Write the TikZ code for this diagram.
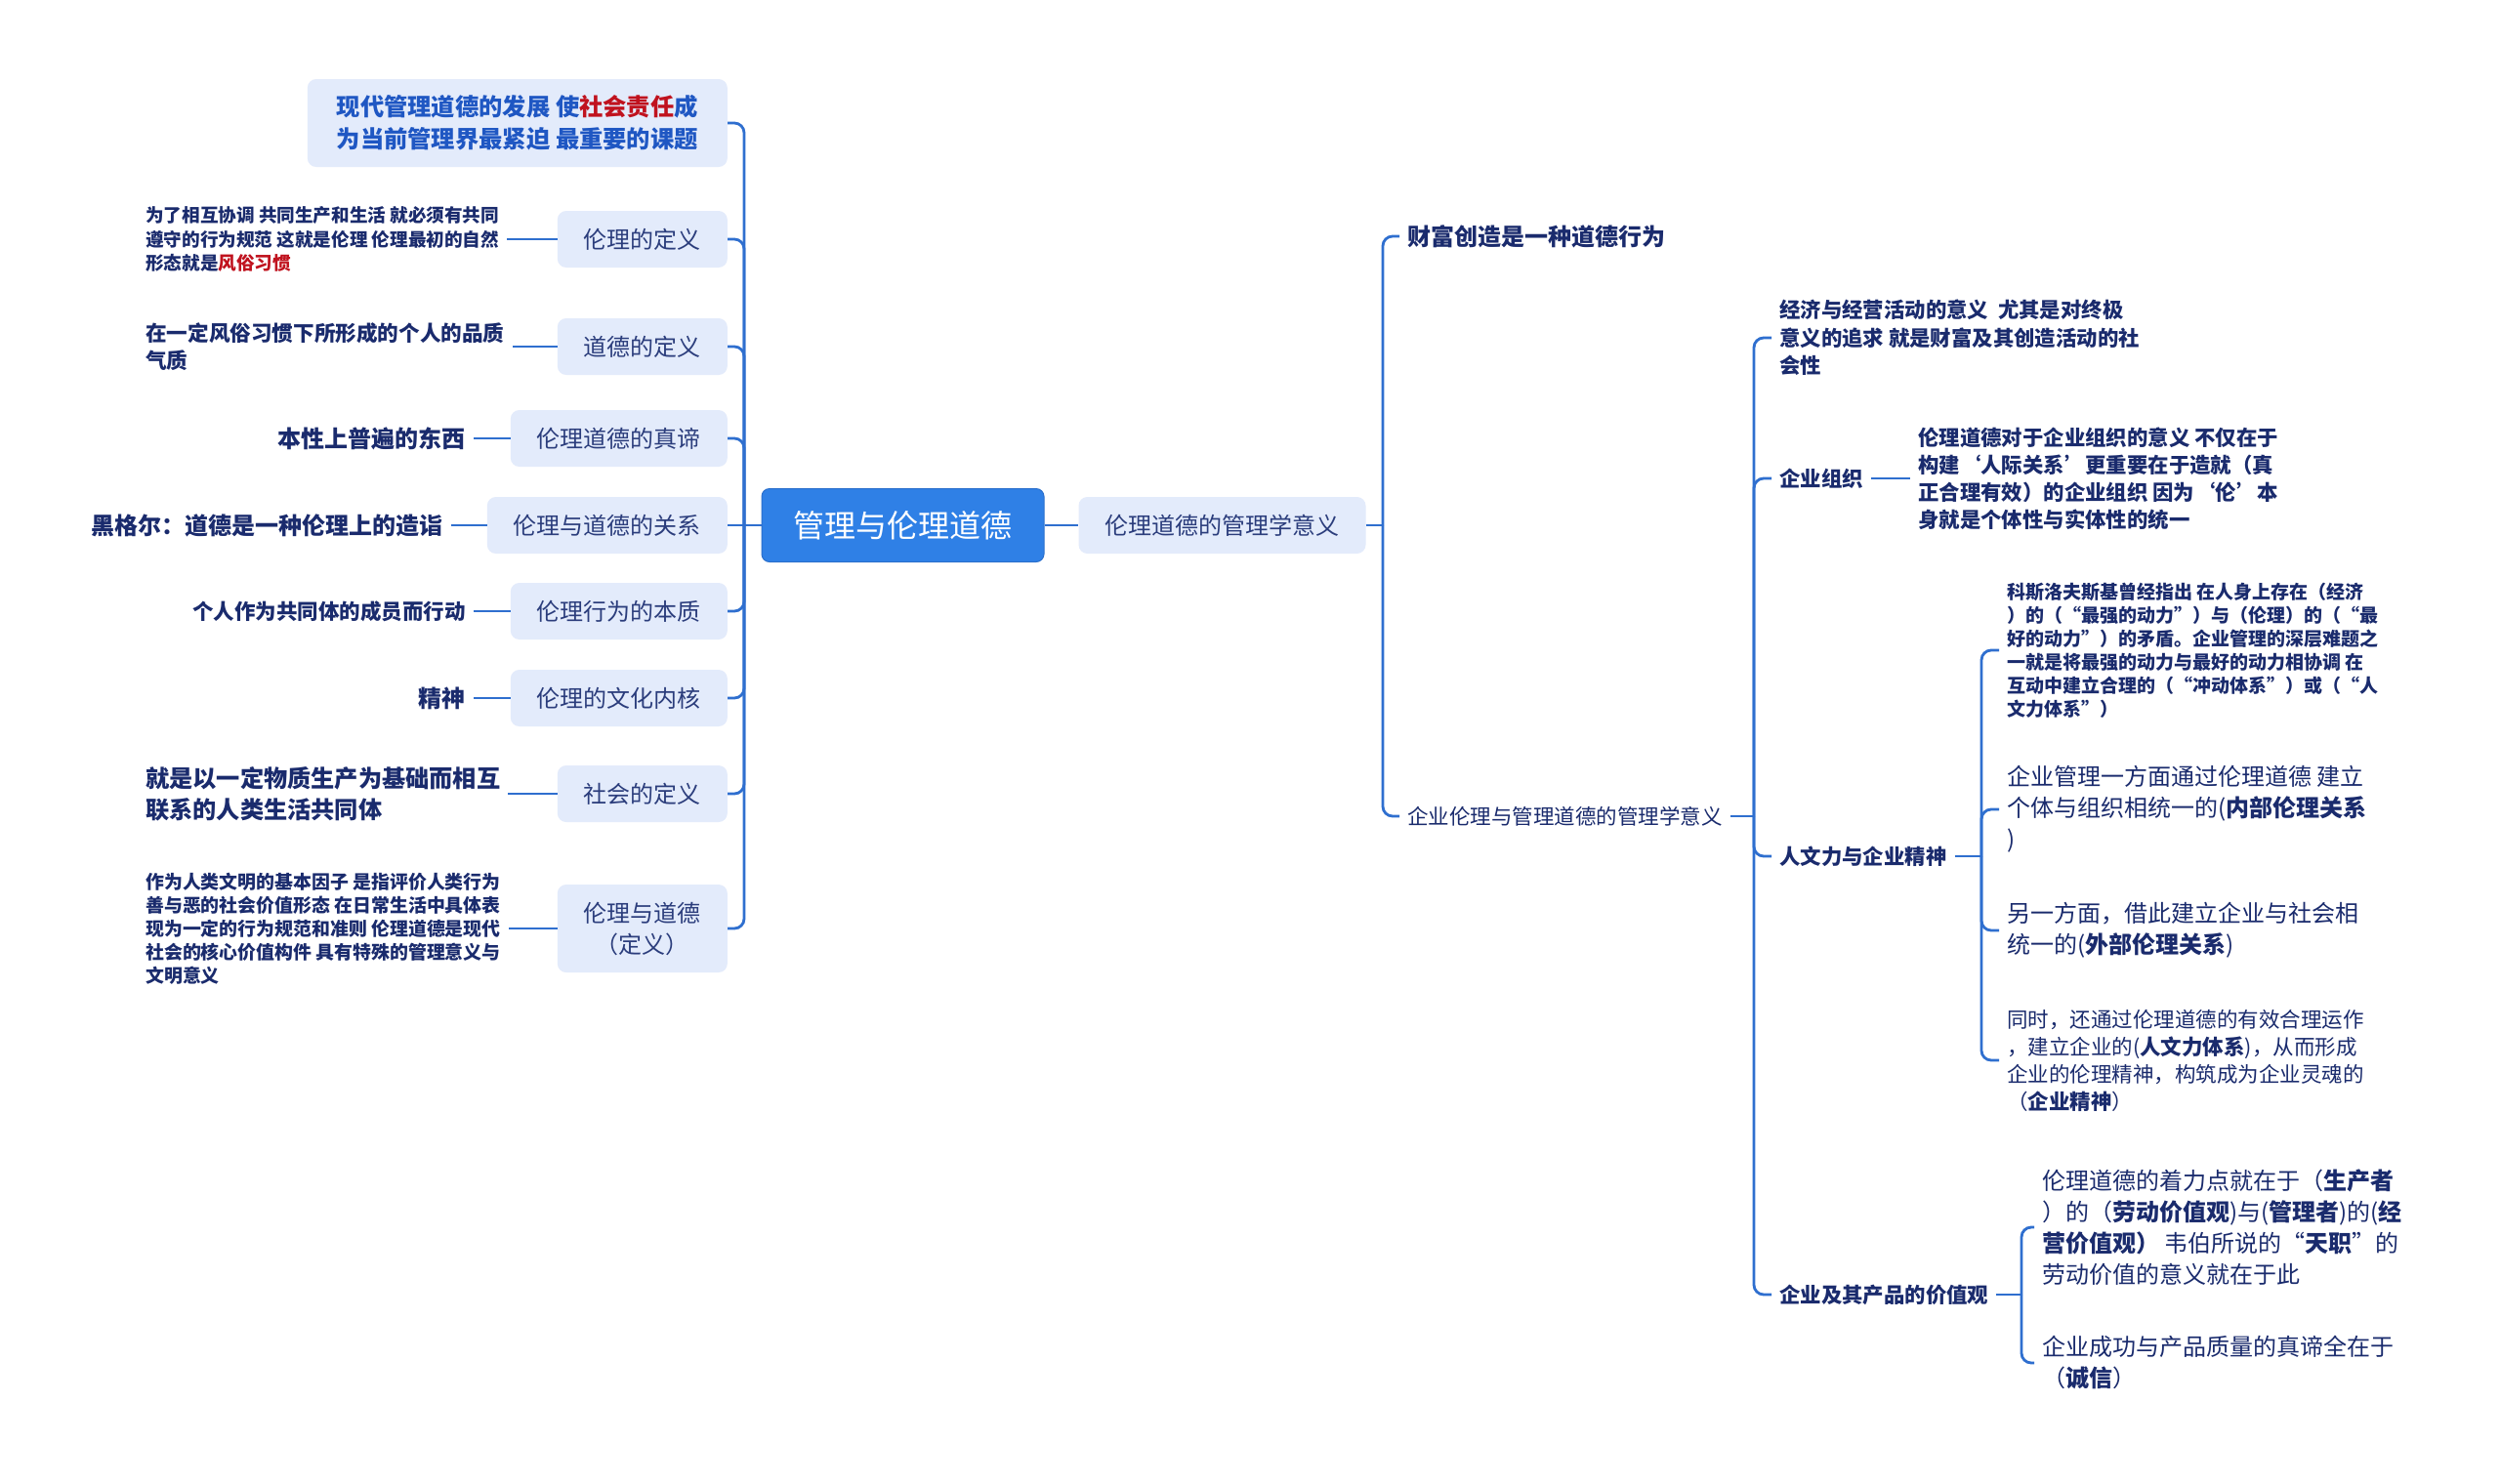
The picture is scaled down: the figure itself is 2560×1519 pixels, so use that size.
\documentclass[tikz,border=0pt]{standalone}
\usepackage{fontspec}
\setmainfont{Noto Sans CJK SC}
\definecolor{navy}{HTML}{1A2B6D}
\definecolor{boxtext}{HTML}{2B3D7C}
\definecolor{boxfill}{HTML}{E3EBFB}
\definecolor{rootfill}{HTML}{2F80E6}
\definecolor{rootdraw}{HTML}{2A6FCC}
\definecolor{linec}{HTML}{2F6FCF}
\definecolor{topblue}{HTML}{1F57C3}
\definecolor{hlred}{HTML}{C0121E}
\newcommand{\myfs}[2]{\fontsize{#1}{#2}\selectfont}
\tikzset{
 conn/.style={draw=linec, line width=2.8pt, rounded corners=10pt},
 rootbox/.style={fill=rootfill, draw=rootdraw, line width=1pt, rounded corners=8pt, text=white, font=\myfs{32}{38}, minimum width=289pt, minimum height=75pt, inner sep=0pt},
 lbox/.style={fill=boxfill, rounded corners=9pt, text=boxtext, font=\myfs{24}{32}, minimum height=58pt, inner xsep=27pt, inner ysep=0pt, align=center},
 leaf/.style={text=navy, inner xsep=8pt, inner ysep=3pt, align=left},
}
\begin{document}
\begin{tikzpicture}[x=1pt,y=-1pt]
\useasboundingbox[fill=white] (0,0) rectangle (2560,1519);
% root
\node[rootbox] (root) at (924.5,538) {管理与伦理道德};
% left level 1
\node[lbox, anchor=east, minimum width=430pt, minimum height=90pt, align=left, text=topblue, font=\myfs{24.3}{33}\bfseries] (a1) at (745,126) {现代管理道德的发展 使\textcolor{hlred}{社会责任}成\\为当前管理界最紧迫 最重要的课题};
\node[lbox, anchor=east] (a2) at (745,245) {伦理的定义};
\node[lbox, anchor=east] (a3) at (745,355) {道德的定义};
\node[lbox, anchor=east] (a4) at (745,449) {伦理道德的真谛};
\node[lbox, anchor=east] (a5) at (745,538) {伦理与道德的关系};
\node[lbox, anchor=east] (a6) at (745,626) {伦理行为的本质};
\node[lbox, anchor=east] (a7) at (745,715) {伦理的文化内核};
\node[lbox, anchor=east] (a8) at (745,813) {社会的定义};
\node[lbox, anchor=east, minimum height=90pt] (a9) at (745,951) {伦理与道德\\（定义）};
% left leaves
\node[leaf, anchor=west, font=\myfs{18.6}{24.5}\bfseries] (b2) at (141,245) {为了相互协调 共同生产和生活 就必须有共同\\遵守的行为规范 这就是伦理 伦理最初的自然\\形态就是\textcolor{hlred}{风俗习惯}};
\node[leaf, anchor=west, font=\myfs{21.6}{28}\bfseries] (b3) at (141,355) {在一定风俗习惯下所形成的个人的品质\\气质};
\node[leaf, anchor=east, font=\myfs{24}{30}\bfseries] (b4) at (485,449) {本性上普遍的东西};
\node[leaf, anchor=east, font=\myfs{24}{30}\bfseries] (b5) at (462,538) {黑格尔：道德是一种伦理上的造诣};
\node[leaf, anchor=east, font=\myfs{21.5}{28}\bfseries] (b6) at (485,626) {个人作为共同体的成员而行动};
\node[leaf, anchor=east, font=\myfs{24}{30}\bfseries] (b7) at (485,715) {精神};
\node[leaf, anchor=west, font=\myfs{24.2}{32}\bfseries] (b8) at (141,813) {就是以一定物质生产为基础而相互\\联系的人类生活共同体};
\node[leaf, anchor=west, font=\myfs{18.9}{24}\bfseries] (b9) at (141,951) {作为人类文明的基本因子 是指评价人类行为\\善与恶的社会价值形态 在日常生活中具体表\\现为一定的行为规范和准则 伦理道德是现代\\社会的核心价值构件 具有特殊的管理意义与\\文明意义};
% left connectors
\coordinate (lb) at (762,538);
\draw[conn] (root.west) -- (a5.east);
\foreach \n in {a1,a2,a3,a4,a6,a7,a8,a9} \draw[conn] (lb) |- (\n.east);
\foreach \p/\c in {a2/b2,a3/b3,a4/b4,a5/b5,a6/b6,a7/b7,a8/b8,a9/b9} \draw[conn] (\p.west) -- (\c.east);
% right level 1
\node[lbox] (m) at (1251.5,538) {伦理道德的管理学意义};
\draw[conn] (root.east) -- (m.west);
\coordinate (rb) at (1416,538);
\draw[conn] (m.east) -- (rb);
\node[leaf, anchor=west, font=\myfs{24}{30}\bfseries] (r1) at (1433,242) {财富创造是一种道德行为};
\node[leaf, anchor=west, font=\myfs{21.5}{28}] (r2) at (1433,836) {企业伦理与管理道德的管理学意义};
\draw[conn] (rb) |- (r1.west);
\draw[conn] (rb) |- (r2.west);
% level 3
\coordinate (rb2) at (1796,836);
\draw[conn] (r2.east) -- (rb2);
\node[leaf, anchor=west, font=\myfs{21.4}{28.6}\bfseries] (s1) at (1814,346) {经济与经营活动的意义\ \ 尤其是对终极\\意义的追求 就是财富及其创造活动的社\\会性};
\node[leaf, anchor=west, font=\myfs{21.4}{28}\bfseries] (s2) at (1814,490) {企业组织};
\node[leaf, anchor=west, font=\myfs{21.4}{28}\bfseries] (s2c) at (1956,490) {伦理道德对于企业组织的意义 不仅在于\\构建‘人际关系’更重要在于造就（真\\正合理有效）的企业组织 因为‘伦’本\\身就是个体性与实体性的统一};
\node[leaf, anchor=west, font=\myfs{21.4}{28}\bfseries] (s3) at (1814,877) {人文力与企业精神};
\node[leaf, anchor=west, font=\myfs{21.4}{28}\bfseries] (s4) at (1814,1326) {企业及其产品的价值观};
\foreach \n in {s1,s2,s3,s4} \draw[conn] (rb2) |- (\n.west);
\draw[conn] (s2.east) -- (s2c.west);
% children of s3
\coordinate (rb3) at (2029,877);
\draw[conn] (s3.east) -- (rb3);
\node[leaf, anchor=west, font=\myfs{19}{24}\bfseries] (t1) at (2047,666) {科斯洛夫斯基曾经指出 在人身上存在（经济\\）的（“最强的动力”）与（伦理）的（“最\\好的动力”）的矛盾。企业管理的深层难题之\\一就是将最强的动力与最好的动力相协调 在\\互动中建立合理的（“冲动体系”）或（“人\\文力体系”）};
\node[leaf, anchor=west, font=\myfs{24}{32}] (t2) at (2047,829) {企业管理一方面通过伦理道德 建立\\个体与组织相统一的(\textbf{内部伦理关系}\\)};
\node[leaf, anchor=west, font=\myfs{24}{32}] (t3) at (2047,953) {另一方面，借此建立企业与社会相\\统一的(\textbf{外部伦理关系})};
\node[leaf, anchor=west, font=\myfs{21.5}{28}] (t4) at (2047,1086) {同时，还通过伦理道德的有效合理运作\\，建立企业的(\textbf{人文力体系})，从而形成\\企业的伦理精神，构筑成为企业灵魂的\\（\textbf{企业精神}）};
\foreach \n in {t1,t2,t3,t4} \draw[conn] (rb3) |- (\n.west);
% children of s4
\coordinate (rb4) at (2070,1326);
\draw[conn] (s4.east) -- (rb4);
\node[leaf, anchor=west, font=\myfs{24}{32}] (u1) at (2083,1257) {伦理道德的着力点就在于（\textbf{生产者}\\）的（\textbf{劳动价值观})与(\textbf{管理者})的(\textbf{经}\\\textbf{营价值观）} 韦伯所说的“\textbf{天职}”的\\劳动价值的意义就在于此};
\node[leaf, anchor=west, font=\myfs{24}{32}] (u2) at (2083,1396) {企业成功与产品质量的真谛全在于\\（\textbf{诚信}）};
\foreach \n in {u1,u2} \draw[conn] (rb4) |- (\n.west);
\end{tikzpicture}
\end{document}
